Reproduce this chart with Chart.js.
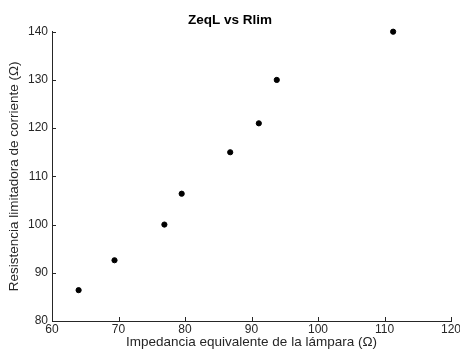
<!DOCTYPE html>
<html>
<head>
<meta charset="utf-8">
<script src="https://cdn.jsdelivr.net/npm/chart.js@4"></script>
<style>
  html, body { margin: 0; padding: 0; background: #fff; }
  #wrap { width: 460px; height: 350px; }
</style>
</head>
<body>
<div id="wrap"><canvas id="myChart" width="460" height="350"></canvas></div>
<script>
const ctx = document.getElementById('myChart').getContext('2d');

// data
const zeqL = [64.0, 69.4, 76.9, 79.5, 86.8, 91.1, 93.8, 111.3];
const rlim = [86.4, 92.6, 100.0, 106.4, 115.0, 121.0, 130.0, 140.0];
const xTicks = [60, 70, 80, 90, 100, 110, 120];
const yTicks = [80, 90, 100, 110, 120, 130, 140];

const fontFamily = 'Liberation Sans, Arial, Helvetica, sans-serif';
const axisColor = '#262626';

// small inward tick marks like matlab
const inwardTicks = {
  id: 'inwardTicks',
  afterDraw(chart) {
    const c = chart.ctx;
    const x = chart.scales.x;
    const y = chart.scales.y;
    const area = chart.chartArea;
    c.save();
    c.strokeStyle = axisColor;
    c.lineWidth = 1;
    c.beginPath();
    xTicks.forEach(v => {
      const px = Math.round(x.getPixelForValue(v)) + 0.5;
      c.moveTo(px, area.bottom);
      c.lineTo(px, area.bottom - 4);
    });
    yTicks.forEach(v => {
      const py = Math.round(y.getPixelForValue(v)) + 0.5;
      c.moveTo(area.left, py);
      c.lineTo(area.left + 4, py);
    });
    c.stroke();
    c.restore();
  }
};

const myChart = new Chart(ctx, {
  type: 'scatter',
  data: {
    datasets: [{
      label: 'ZeqL vs Rlim',
      data: zeqL.map((v, i) => ({ x: v, y: rlim[i] })),
      backgroundColor: '#000',
      borderColor: '#000',
      pointRadius: 2.6,
      pointHoverRadius: 2.6,
      clip: false
    }]
  },
  options: {
    responsive: false,
    animation: false,
    layout: { padding: { left: 0, right: 0, top: 0, bottom: 0 } },
    plugins: {
      legend: { display: false },
      tooltip: { enabled: false },
      title: {
        display: true,
        text: 'ZeqL vs Rlim',
        color: '#000',
        font: { family: fontFamily, size: 13.5, weight: 'bold' },
        padding: { top: 12, bottom: 3.5 }
      }
    },
    scales: {
      x: {
        type: 'linear',
        min: 60,
        max: 120,
        afterBuildTicks: scale => { scale.ticks = xTicks.map(v => ({ value: v })); },
        afterFit: scale => {
          scale.height = 29;
          scale.paddingRight = 9;
        },
        grid: { display: false, drawTicks: false },
        border: { display: true, color: axisColor, width: 1 },
        ticks: {
          color: axisColor,
          padding: 1,
          maxRotation: 0,
          font: { family: fontFamily, size: 12 }
        },
        title: {
          display: true,
          text: 'Impedancia equivalente de la lámpara (Ω)',
          color: axisColor,
          font: { family: fontFamily, size: 13.5 },
          padding: { top: 0, bottom: 0 }
        }
      },
      y: {
        type: 'linear',
        min: 80,
        max: 140,
        afterBuildTicks: scale => { scale.ticks = yTicks.map(v => ({ value: v })); },
        afterFit: scale => { scale.width = 52; },
        grid: { display: false, drawTicks: false },
        border: { display: true, color: axisColor, width: 1 },
        ticks: {
          color: axisColor,
          padding: 4,
          font: { family: fontFamily, size: 12 }
        },
        title: {
          display: true,
          text: 'Resistencia limitadora de corriente (Ω)',
          color: axisColor,
          font: { family: fontFamily, size: 13.5 },
          padding: { top: 6, bottom: 0 }
        }
      }
    }
  },
  plugins: [inwardTicks]
});
</script>
</body>
</html>
